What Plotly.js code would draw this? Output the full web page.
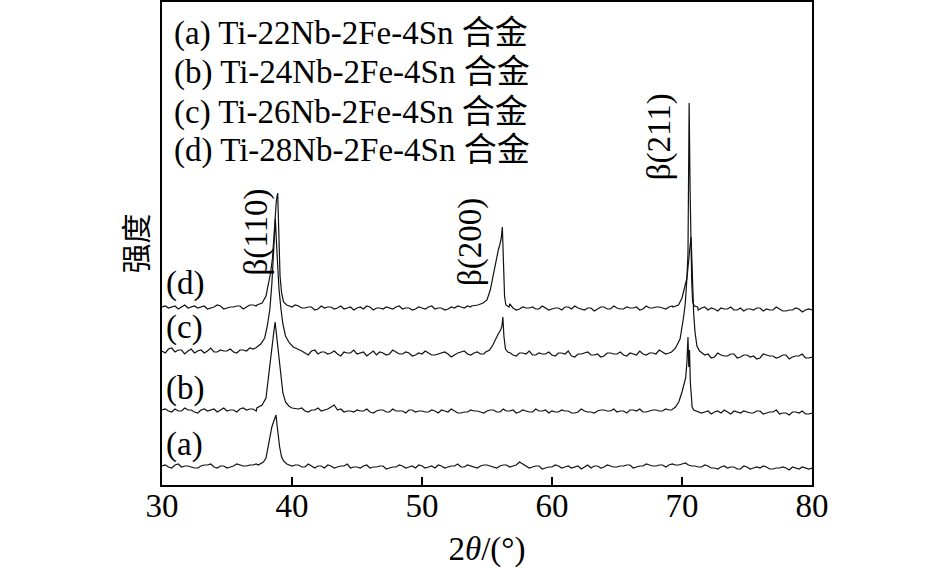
<!DOCTYPE html>
<html>
<head>
<meta charset="utf-8">
<script src="https://cdn.plot.ly/plotly-3.0.1.min.js"></script>
<style>
  html, body { margin: 0; padding: 0; background: #fff; }
  #chart { width: 945px; height: 568px; }
</style>
</head>
<body>
<div id="chart"></div>
<script>
// 2theta sampling of the flat background (whole and half steps)
const gridX = [
  30, 30.5, 31, 31.5, 32, 32.5, 33, 33.5, 34, 34.5,
  35, 35.5, 36, 36.5, 37, 37.5, 38, 38.5, 39, 39.5,
  40, 40.5, 41, 41.5, 42, 42.5, 43, 43.5, 44, 44.5,
  45, 45.5, 46, 46.5, 47, 47.5, 48, 48.5, 49, 49.5,
  50, 50.5, 51, 51.5, 52, 52.5, 53, 53.5, 54, 54.5,
  55, 55.5, 56, 56.5, 57, 57.5, 58, 58.5, 59, 59.5,
  60, 60.5, 61, 61.5, 62, 62.5, 63, 63.5, 64, 64.5,
  65, 65.5, 66, 66.5, 67, 67.5, 68, 68.5, 69, 69.5,
  70, 70.5, 71, 71.5, 72, 72.5, 73, 73.5, 74, 74.5,
  75, 75.5, 76, 76.5, 77, 77.5, 78, 78.5, 79, 79.5,
  80,
];
const midX = [
  30.25, 30.75, 31.25, 31.75, 32.25, 32.75, 33.25, 33.75, 34.25, 34.75,
  35.25, 35.75, 36.25, 36.75, 37.25, 37.75, 38.25, 38.75, 39.25, 39.75,
  40.25, 40.75, 41.25, 41.75, 42.25, 42.75, 43.25, 43.75, 44.25, 44.75,
  45.25, 45.75, 46.25, 46.75, 47.25, 47.75, 48.25, 48.75, 49.25, 49.75,
  50.25, 50.75, 51.25, 51.75, 52.25, 52.75, 53.25, 53.75, 54.25, 54.75,
  55.25, 55.75, 56.25, 56.75, 57.25, 57.75, 58.25, 58.75, 59.25, 59.75,
  60.25, 60.75, 61.25, 61.75, 62.25, 62.75, 63.25, 63.75, 64.25, 64.75,
  65.25, 65.75, 66.25, 66.75, 67.25, 67.75, 68.25, 68.75, 69.25, 69.75,
  70.25, 70.75, 71.25, 71.75, 72.25, 72.75, 73.25, 73.75, 74.25, 74.75,
  75.25, 75.75, 76.25, 76.75, 77.25, 77.75, 78.25, 78.75, 79.25, 79.75,
];

// background intensity (arb. units) of each pattern on gridX
const baseA = [
  1, 0, 2, 0, 1, -1, 1, 2, 0, 1,
  -1, 1, 2, 1, 2, 3, 3, 2, 2, 2,
  1, 2, 0, 1, 1, -1, 1, 0, 1, -1,
  0, 1, -1, 0, 1, -1, 0, 1, 0, -1,
  1, 0, -1, 1, 0, 1, 0, 2, 0, 1,
  2, 0, 1, 2, 1, 5, 1, 0, 1, -1,
  0, 1, 0, -1, 1, 0, -1, 1, 0, 1,
  0, 1, 2, 0, 1, 2, 1, 2, 2, 2,
  3, 2, 1, 0, 1, -1, 0, -1, 0, -2,
  0, -1, -1, 0, -2, -1, -1, 0, -2, -1,
  -1,
];
const baseB = [
  2, 1, 3, 1, 2, 0, 2, 1, 3, 2,
  1, 2, 3, 2, 3, 4, 5, 4, 4, 3,
  2, 3, 1, 2, 4, 2, 5, 2, 0, 1,
  2, 1, 0, 1, 2, 0, 1, 1, 2, 0,
  1, 0, 1, 2, 0, 1, -1, 0, 1, 0,
  1, 2, 0, 1, 2, 0, 1, 0, 1, 2,
  1, 0, 1, -1, 0, 1, 0, 1, 2, 1,
  0, 1, 2, 1, 0, 1, 2, 1, 2, 3,
  2, 1, 0, -1, 1, 0, -1, 0, 1, -1,
  0, -1, 1, -1, 0, -2, -1, 0, -1, -2,
  -1,
];
const baseC = [
  3, 5, 2, 4, 3, 1, 4, 3, 2, 4,
  3, 2, 4, 3, 5, 6, 8, 6, 4, 5,
  3, 2, 1, 3, 0, 2, 1, 0, 2, 1,
  0, 2, 1, -1, 1, 0, 2, 0, 1, -1,
  0, 1, -1, 1, 0, -1, 2, 0, 1, 0,
  1, 2, 3, 1, -1, 1, 0, -1, 1, 0,
  -1, 1, 0, -2, 0, 1, -1, 0, -2, 1,
  0, -1, 1, -1, 0, 1, 0, 2, 1, 2,
  3, 2, -1, -2, 0, -3, -1, -2, 0, -3,
  -1, -2, -4, -1, -2, -3, -1, -3, -2, -4,
  -3,
];
const baseD = [
  1, 0, 2, 1, 0, 2, 1, -1, 1, 2,
  0, 1, 2, 1, 3, 4, 5, 4, 3, 2,
  1, 2, 0, 1, -1, 0, 1, 0, -1, 1,
  0, -1, 1, 0, -1, 0, 1, -1, 0, -1,
  0, 1, -1, 0, -1, 0, 1, 2, 1, 2,
  3, 8, 30, 10, 0, -1, 0, 1, -1, 0,
  -1, 0, 1, -1, 0, -2, 0, -1, 1, -1,
  0, -1, 0, 1, -1, 0, 1, 0, 1, 2,
  3, 5, -1, 0, -2, -1, 0, -1, -2, 0,
  -1, -2, 0, -1, -2, -1, -3, -2, -1, -2,
  -2,
];

// background on midX (counting noise between the whole steps)
const midA = [
  2, -1, 3, 1, 0, -1, 2, 3, -1, 1,
  0, 3, 1, 2, 3, 4, 3, 3, 3, 3,
  2, 0, 3, -1, 1, 2, -1, 1, 3, 0,
  -1, 2, 0, 1, -2, 0, 2, -1, 1, 2,
  -1, 1, 2, -1, 1, 3, 0, 1, -1, 2,
  1, -1, 2, 0, 2, 3, -1, 1, -2, 0,
  2, -1, 1, 0, -2, 2, 1, -1, 2, 0,
  1, 2, -1, 1, 3, 1, 2, 0, 3, 2,
  4, 1, 0, 2, -1, -2, 1, 0, -2, 1,
  -2, 0, 1, -2, -1, 0, -3, -1, 0, -2,
];
const midB = [
  3, 0, 1, 4, 2, -1, 3, 2, 0, 4,
  2, 0, 4, 3, 1, 5, 5, 5, 5, 5,
  3, 4, 0, 2, 1, 3, 7, 3, 1, 0,
  1, 3, -1, 2, 0, 3, 1, -1, 2, 1,
  0, 2, -1, 1, 3, -1, 0, 2, 1, -1,
  2, 0, 3, 1, -1, 2, 0, 3, 1, -1,
  0, 2, 1, -1, 3, 0, -1, 2, 1, 3,
  1, -1, 2, 3, 0, 2, 1, 3, 4, 4,
  3, 3, 1, 0, -2, 1, 2, -2, 0, 1,
  -1, 1, -2, 0, 2, -1, -3, 0, 1, -2,
];
const midC = [
  1, 6, 4, 0, 5, 3, 1, 6, 2, 3,
  5, 1, 4, 6, 2, 8, 8, 8, 8, 8,
  8, 3, -1, 4, 2, 0, 3, -2, 1, 4,
  1, -2, 3, 2, -1, 4, 0, 2, -2, 1,
  3, -1, 0, 2, -3, 1, 3, -1, 2, 0,
  5, 5, 5, 5, -2, 1, 3, -1, 0, 2,
  -2, 1, 3, -3, 0, 2, -1, -3, 1, 0,
  2, -2, 0, 3, -1, 1, 4, 0, 4, 4,
  4, 4, 4, -1, -4, 1, -2, 0, -4, -1,
  -3, -5, 0, -2, -4, -1, -5, -2, 0, -4,
];
const midD = [
  2, 1, -1, 3, 1, 0, 2, 0, 3, -1,
  1, 2, -1, 3, 2, 5, 5, 5, 5, 5,
  3, 0, 1, -2, 2, 1, -1, 2, 0, -2,
  1, 2, -2, 0, 1, -1, 2, 0, -2, 1,
  -1, 2, 0, -2, 1, 2, 0, 1, 4, 4,
  4, 4, 4, 4, -2, 1, 0, -1, 2, -2,
  0, -2, 1, 2, -1, 0, -3, 1, -1, 2,
  -1, 1, 0, -2, 2, 0, 1, -1, 2, 4,
  4, 4, -2, 1, 0, -3, -1, 1, -2, -3,
  -1, 0, -3, -2, 1, -3, -2, 0, -4, -1,
];

// Bragg peaks
const a110X = [37.4, 37.8, 38.0, 38.15, 38.3, 38.45, 38.55, 38.65, 38.77, 38.85, 38.95, 39.05, 39.2, 39.35, 39.6, 39.9];
const a110Y = [2, 5, 9, 20, 30, 40, 44, 48, 52, 42, 30, 20, 10, 6, 3, 2];

const b110X = [37.3, 37.7, 38.0, 38.15, 38.3, 38.45, 38.6, 38.7, 38.8, 38.95, 39.1, 39.3, 39.5, 39.75, 40.0, 40.3];
const b110Y = [4, 7, 14, 32, 45, 65, 80, 90, 78, 60, 38, 19, 10, 6, 4, 3];
const b211X = [69.2, 69.5, 69.75, 70.0, 70.15, 70.28, 70.38, 70.46, 70.52, 70.58, 70.64, 70.7, 70.78, 70.9, 71.1];
const b211Y = [2, 5, 10, 20, 28, 34, 50, 75, 45, 62, 30, 14, 5, 2, 1];

const c110X = [37.2, 37.6, 37.9, 38.1, 38.3, 38.45, 38.6, 38.72, 38.85, 39.0, 39.15, 39.3, 39.5, 39.8, 40.1, 40.5];
const c110Y = [6, 10, 16, 28, 45, 70, 105, 135, 100, 65, 45, 30, 18, 11, 7, 5];
const c200X = [54.9, 55.2, 55.45, 55.7, 55.9, 56.05, 56.15, 56.22, 56.3, 56.42, 56.6, 56.8];
const c200Y = [2, 4, 9, 16, 21, 24, 28, 37, 18, 5, 2, 1];
const c211X = [69.2, 69.5, 69.85, 70.1, 70.25, 70.38, 70.5, 70.6, 70.7, 70.8, 70.9, 71.0, 71.15, 71.35, 71.6];
const c211Y = [2, 6, 15, 35, 50, 76, 95, 105, 117, 70, 40, 22, 8, 3, 1];

const d110X = [37.3, 37.7, 38.0, 38.2, 38.35, 38.5, 38.62, 38.72, 38.8, 38.9, 38.98, 39.08, 39.2, 39.35, 39.6, 39.9];
const d110Y = [3, 5, 12, 24, 35, 50, 70, 95, 108, 115, 70, 32, 15, 6, 3, 2];
const d200X = [53.8, 54.3, 54.7, 55.0, 55.25, 55.45, 55.65, 55.87, 56.0, 56.1, 56.18, 56.26, 56.35, 56.45, 56.7];
const d200Y = [2, 3, 5, 8, 18, 31, 46, 58, 64, 70, 81, 45, 12, 3, 1];
const d211X = [69.3, 69.73, 70.0, 70.12, 70.25, 70.38, 70.46, 70.5, 70.55, 70.62, 70.68, 70.75, 70.82, 70.95, 71.2];
const d211Y = [1, 3, 10, 16, 22, 30, 55, 100, 205, 120, 67, 25, 6, 2, 1];

// vertical stacking of the four patterns
const offsets = [18, 73, 131, 177];

const curveLabels = ['(a)', '(b)', '(c)', '(d)'];
const legendLines = [
  '(a) Ti-22Nb-2Fe-4Sn 合金',
  '(b) Ti-24Nb-2Fe-4Sn 合金',
  '(c) Ti-26Nb-2Fe-4Sn 合金',
  '(d) Ti-28Nb-2Fe-4Sn 合金',
];
const peakNames = ['β(110)', 'β(200)', 'β(211)'];
const xTicks = [30, 40, 50, 60, 70, 80];

const SERIF = '"Liberation Serif", "Noto Sans CJK SC", serif';

const buildTrace = (base, mid, peaks, offset) => {
  const inPeak = (x) => peaks.some((p) => x >= p[0][0] && x <= p[0][p[0].length - 1]);
  const pts = [];
  gridX.forEach((x, i) => { if (!inPeak(x)) pts.push([x, base[i]]); });
  midX.forEach((x, i) => { if (!inPeak(x)) pts.push([x, mid[i]]); });
  peaks.forEach((p) => p[0].forEach((x, i) => pts.push([x, p[1][i]])));
  pts.sort((a, b) => a[0] - b[0]);
  return {
    x: pts.map((p) => p[0]),
    y: pts.map((p) => p[1] + offset),
    mode: 'lines',
    type: 'scatter',
    line: { color: '#111', width: 1.2 },
    hoverinfo: 'skip',
    showlegend: false,
  };
};

const traces = [
  buildTrace(baseA, midA, [[a110X, a110Y]], offsets[0]),
  buildTrace(baseB, midB, [[b110X, b110Y], [b211X, b211Y]], offsets[1]),
  buildTrace(baseC, midC, [[c110X, c110Y], [c200X, c200Y], [c211X, c211Y]], offsets[2]),
  buildTrace(baseD, midD, [[d110X, d110Y], [d200X, d200Y], [d211X, d211Y]], offsets[3]),
];

const annotations = [];

// curve tags at the left edge
const tagY = [41, 97, 158, 202];
curveLabels.forEach((t, i) => {
  annotations.push({
    x: 30.15, y: tagY[i], xref: 'x', yref: 'y',
    text: t, showarrow: false, xanchor: 'left', yanchor: 'middle',
    font: { family: SERIF, size: 33, color: '#000' },
  });
});

// composition list in the top left corner
const legendY = [452, 413, 373, 335];
legendLines.forEach((t, i) => {
  annotations.push({
    x: 30.75, y: legendY[i], xref: 'x', yref: 'y',
    text: t, showarrow: false, xanchor: 'left', yanchor: 'middle',
    font: { family: SERIF, size: 33, color: '#000' },
  });
});

// peak indexes, vertical
const peakPos = [[37.2, 253], [53.7, 243], [68.25, 348]];
peakNames.forEach((t, i) => {
  annotations.push({
    x: peakPos[i][0], y: peakPos[i][1], xref: 'x', yref: 'y',
    text: t, showarrow: false, textangle: -90,
    xanchor: 'center', yanchor: 'middle',
    font: { family: SERIF, size: 33, color: '#000' },
  });
});

const layout = {
  width: 945,
  height: 568,
  margin: { l: 162, r: 133, t: 2, b: 83 },
  paper_bgcolor: '#fff',
  plot_bgcolor: '#fff',
  showlegend: false,
  xaxis: {
    range: [30, 80],
    tickvals: xTicks,
    ticktext: xTicks.map(String),
    ticks: 'inside',
    ticklen: 8,
    tickwidth: 1.5,
    tickcolor: '#000',
    ticklabelstandoff: -10,
    showline: true,
    linecolor: '#000',
    linewidth: 2,
    mirror: true,
    showgrid: false,
    zeroline: false,
    tickfont: { family: SERIF, size: 33, color: '#000' },
    title: { text: '2<i>θ</i>/(°)', font: { family: SERIF, size: 33, color: '#000' }, standoff: 14 },
  },
  yaxis: {
    range: [0, 483],
    showticklabels: false,
    ticks: '',
    showline: true,
    linecolor: '#000',
    linewidth: 2,
    mirror: true,
    showgrid: false,
    zeroline: false,
    title: { text: '强度', font: { family: '"Noto Sans CJK SC", sans-serif', size: 30, color: '#000' }, standoff: 4 },
  },
  annotations,
};

Plotly.newPlot('chart', traces, layout, { displayModeBar: false, staticPlot: true });
</script>
</body>
</html>
